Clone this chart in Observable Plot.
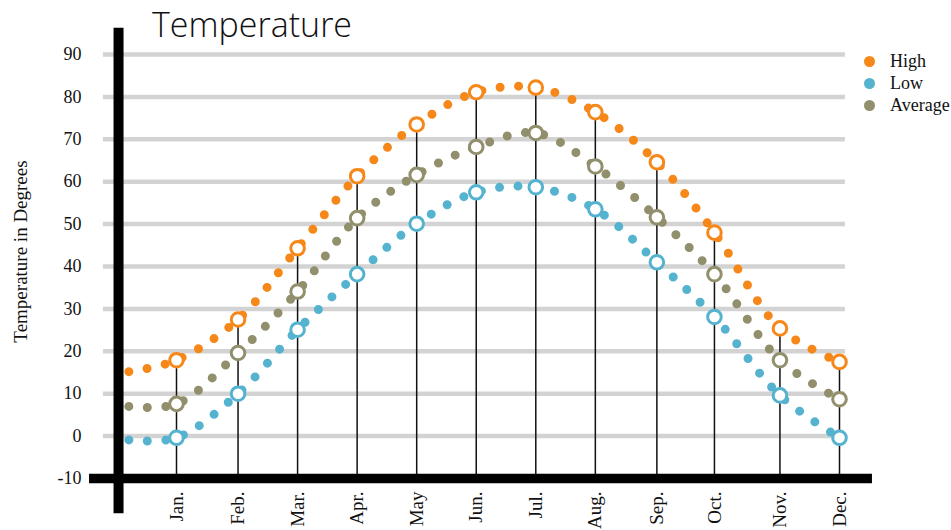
<!DOCTYPE html>
<html><head><meta charset="utf-8">
<script src="https://cdn.jsdelivr.net/npm/d3@7"></script>
<script src="https://cdn.jsdelivr.net/npm/@observablehq/plot@0.6"></script>
<style>
body{margin:0;background:#fff}
#wrap{position:relative;width:951px;height:530px;overflow:hidden}
#title{position:absolute;left:152px;top:1px;font-family:"Open Sans";font-weight:300;font-size:34px;color:#111;white-space:nowrap}
#legend{position:absolute;left:864px;top:50px;font-family:"Liberation Serif";font-size:18px;color:#111}
.item{display:flex;align-items:center;height:22px}
.sw{width:11px;height:11px;border-radius:50%;margin-right:15px}
</style></head><body>
<div id="wrap"><div id="chart"></div><div id="title">Temperature</div><div id="legend"></div></div>
<script>
// ---- data ----
const months = ["Jan.","Feb.","Mar.","Apr.","May","Jun.","Jul.","Aug.","Sep.","Oct.","Nov.","Dec."];
const monthDays = [15,46,76,106,136,166,196,226,257,286,319,349];
const high    = [17.9,27.5,44.3,61.3,73.5,81.1,82.2,76.4,64.6,48.0,25.4,17.5];
const low     = [-0.4,10.0,25.1,38.2,50.1,57.5,58.7,53.5,41.0,28.1,9.6,-0.4];
const average = [7.6,19.6,34.1,51.4,61.6,68.2,71.5,63.6,51.6,38.2,17.9,8.7];
// the dotted curves begin a little before January
const leadDay = -9;
const leadHigh = 15.2, leadLow = -0.9, leadAverage = 7.0;
const seriesNames  = ["High","Low","Average"];
const seriesColors = ["#f6881a","#55b3cf","#918f6c"];
const yTicks = [-10,0,10,20,30,40,50,60,70,80,90];
const gridTicks = [0,10,20,30,40,50,60,70,80,90];

// ---- tables built from the arrays ----
const seriesValues = {High: high, Low: low, Average: average};
const seriesLead = {High: leadHigh, Low: leadLow, Average: leadAverage};
const monthRows = months.map((m,i)=>({label:m, day:monthDays[i], high:high[i]}));
const circleRows = seriesNames.flatMap(s => monthDays.map((d,i)=>({series:s, day:d, value:seriesValues[s][i]})));
const lineRows = seriesNames.flatMap(s => [{series:s, day:leadDay, value:seriesLead[s]},
  ...monthDays.map((d,i)=>({series:s, day:d, value:seriesValues[s][i]}))]);

// axis extents (in data units)
const yAxisDay = -14.2, yAxisTop = 96.2, yAxisBottom = -18.3;
const xAxisStart = -28.8, xAxisEnd = 365.6;
const gridStart = -21.8, gridEnd = 352;

const serif = "Liberation Serif, Times New Roman, serif";

const chart = Plot.plot({
  width: 951, height: 530,
  marginTop: 54, marginBottom: 52, marginLeft: 118, marginRight: 80,
  style: {fontFamily: serif, background: "white"},
  x: {domain: [15, 349], range: [176, 839], axis: null},
  y: {domain: [-10, 90], range: [478, 54]},
  color: {domain: seriesNames, range: seriesColors},
  marks: [
    Plot.ruleY(gridTicks, {x1: gridStart, x2: gridEnd, stroke: "#d3d3d3", strokeWidth: 4.5}),
    Plot.ruleX(monthRows, {x: "day", y1: -10, y2: "high", stroke: "#111", strokeWidth: 1.5}),
    Plot.line(lineRows, {x: "day", y: "value", z: "series", stroke: "series", curve: "catmull-rom",
      strokeWidth: 9, strokeDasharray: "0 18.5", strokeLinecap: "round"}),
    Plot.dot(circleRows, {x: "day", y: "value", stroke: "series", fill: "white", r: 6.8, strokeWidth: 3}),
    Plot.ruleX([yAxisDay], {y1: yAxisBottom, y2: yAxisTop, stroke: "black", strokeWidth: 10}),
    Plot.ruleY([-10], {x1: xAxisStart, x2: xAxisEnd, stroke: "black", strokeWidth: 9.5}),
    Plot.axisY({ticks: yTicks, tickSize: 0, tickPadding: 37, fontSize: 18, label: null, fill: "#111",
      fontFamily: serif, tickFormat: d => String(d)}),
    Plot.text(monthRows, {x: "day", y: -10, text: "label", rotate: -90, textAnchor: "end", dy: 13,
      fontSize: 19, fontFamily: serif, fill: "#111"}),
    Plot.text(["Temperature in Degrees"], {frameAnchor: "left", textAnchor: "middle", rotate: -90,
      dx: -98, dy: -15, fontSize: 19, fontFamily: serif, fill: "#111"})
  ]
});
document.getElementById("chart").appendChild(chart);

const legend = document.getElementById("legend");
seriesNames.forEach((s,i)=>{
  const it = document.createElement("div"); it.className = "item";
  const sw = document.createElement("div"); sw.className = "sw"; sw.style.background = seriesColors[i];
  const tx = document.createElement("span"); tx.textContent = s;
  it.appendChild(sw); it.appendChild(tx); legend.appendChild(it);
});
</script>
</body></html>
